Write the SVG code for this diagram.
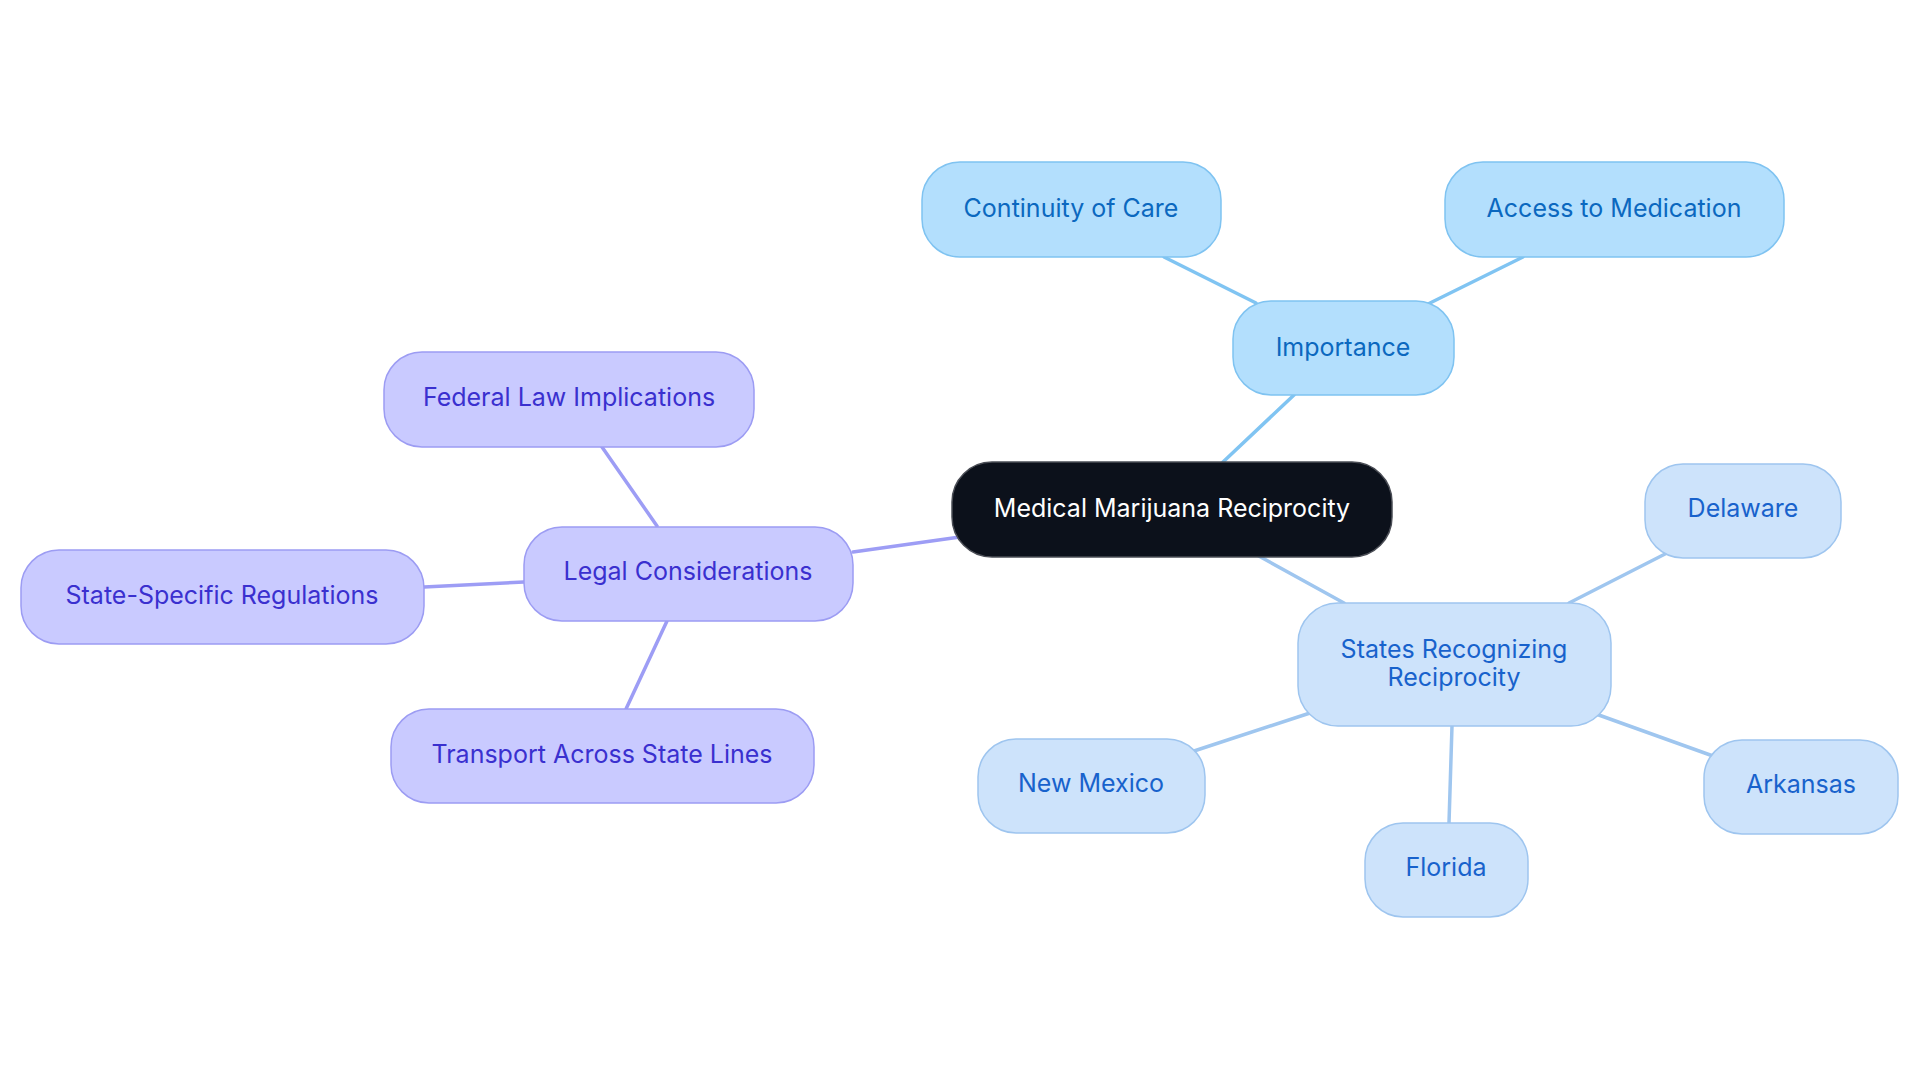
<svg xmlns="http://www.w3.org/2000/svg" width="1920" height="1083" viewBox="0 0 1920 1083">
<style>
text{font-family:Inter,"Noto Sans","Liberation Sans",sans-serif;font-size:25px;text-anchor:middle}
.imp rect{fill:#b3dffd;stroke:#7fc3f1;stroke-width:1.5}
.imp text{fill:#0b68bf}
.st rect{fill:#cde3fb;stroke:#9ec5ef;stroke-width:1.5}
.st text{fill:#1862cc}
.lg rect{fill:#c9caff;stroke:#9c9cf3;stroke-width:1.5}
.lg text{fill:#3a30cf}
.root rect{fill:#0c111b;stroke:#4a4d55;stroke-width:1.5}
.root text{fill:#ffffff}
.e line{stroke-width:3.5;stroke-linecap:round}
.ei{stroke:#80c4f2}
.es{stroke:#9fc6ef}
.el{stroke:#9d9df5}
</style>
<rect width="1920" height="1083" fill="#ffffff"/>
<g id="connectors" class="e">
<line class="ei" x1="1223" y1="462" x2="1294" y2="395"/>
<line class="ei" x1="1256" y1="303" x2="1164" y2="257"/>
<line class="ei" x1="1428" y1="304" x2="1523" y2="257"/>
<line class="es" x1="1257" y1="555" x2="1344" y2="603"/>
<line class="es" x1="1310" y1="713" x2="1194" y2="751"/>
<line class="es" x1="1452" y1="726" x2="1449" y2="823"/>
<line class="es" x1="1596" y1="714" x2="1713" y2="756"/>
<line class="es" x1="1569" y1="603" x2="1667" y2="553"/>
<line class="el" x1="853" y1="552" x2="960" y2="537"/>
<line class="el" x1="657" y1="526" x2="602" y2="447"/>
<line class="el" x1="524" y1="582" x2="424" y2="587"/>
<line class="el" x1="667" y1="621" x2="626" y2="709"/>
</g>
<g id="root" class="root"><rect x="952" y="462" width="440" height="95" rx="40"/><text x="1172" y="517">Medical Marijuana Reciprocity</text></g>
<g id="importance" class="imp"><rect x="1233" y="301" width="221" height="94" rx="38"/><text x="1343" y="356">Importance</text></g>
<g id="continuity" class="imp"><rect x="922" y="162" width="299" height="95" rx="38"/><text x="1071" y="217">Continuity of Care</text></g>
<g id="access" class="imp"><rect x="1445" y="162" width="339" height="95" rx="38"/><text x="1614" y="217">Access to Medication</text></g>
<g id="states" class="st"><rect x="1298" y="603" width="313" height="123" rx="40"/><text x="1454" y="658">States Recognizing</text><text x="1454" y="686">Reciprocity</text></g>
<g id="delaware" class="st"><rect x="1645" y="464" width="196" height="94" rx="38"/><text x="1743" y="517">Delaware</text></g>
<g id="arkansas" class="st"><rect x="1704" y="740" width="194" height="94" rx="38"/><text x="1801" y="793">Arkansas</text></g>
<g id="newmexico" class="st"><rect x="978" y="739" width="227" height="94" rx="38"/><text x="1091" y="792">New Mexico</text></g>
<g id="florida" class="st"><rect x="1365" y="823" width="163" height="94" rx="38"/><text x="1446" y="876">Florida</text></g>
<g id="legal" class="lg"><rect x="524" y="527" width="329" height="94" rx="38"/><text x="688" y="580">Legal Considerations</text></g>
<g id="federal" class="lg"><rect x="384" y="352" width="370" height="95" rx="38"/><text x="569" y="406">Federal Law Implications</text></g>
<g id="statespecific" class="lg"><rect x="21" y="550" width="403" height="94" rx="38"/><text x="222" y="604">State-Specific Regulations</text></g>
<g id="transport" class="lg"><rect x="391" y="709" width="423" height="94" rx="38"/><text x="602" y="763">Transport Across State Lines</text></g>
</svg>
